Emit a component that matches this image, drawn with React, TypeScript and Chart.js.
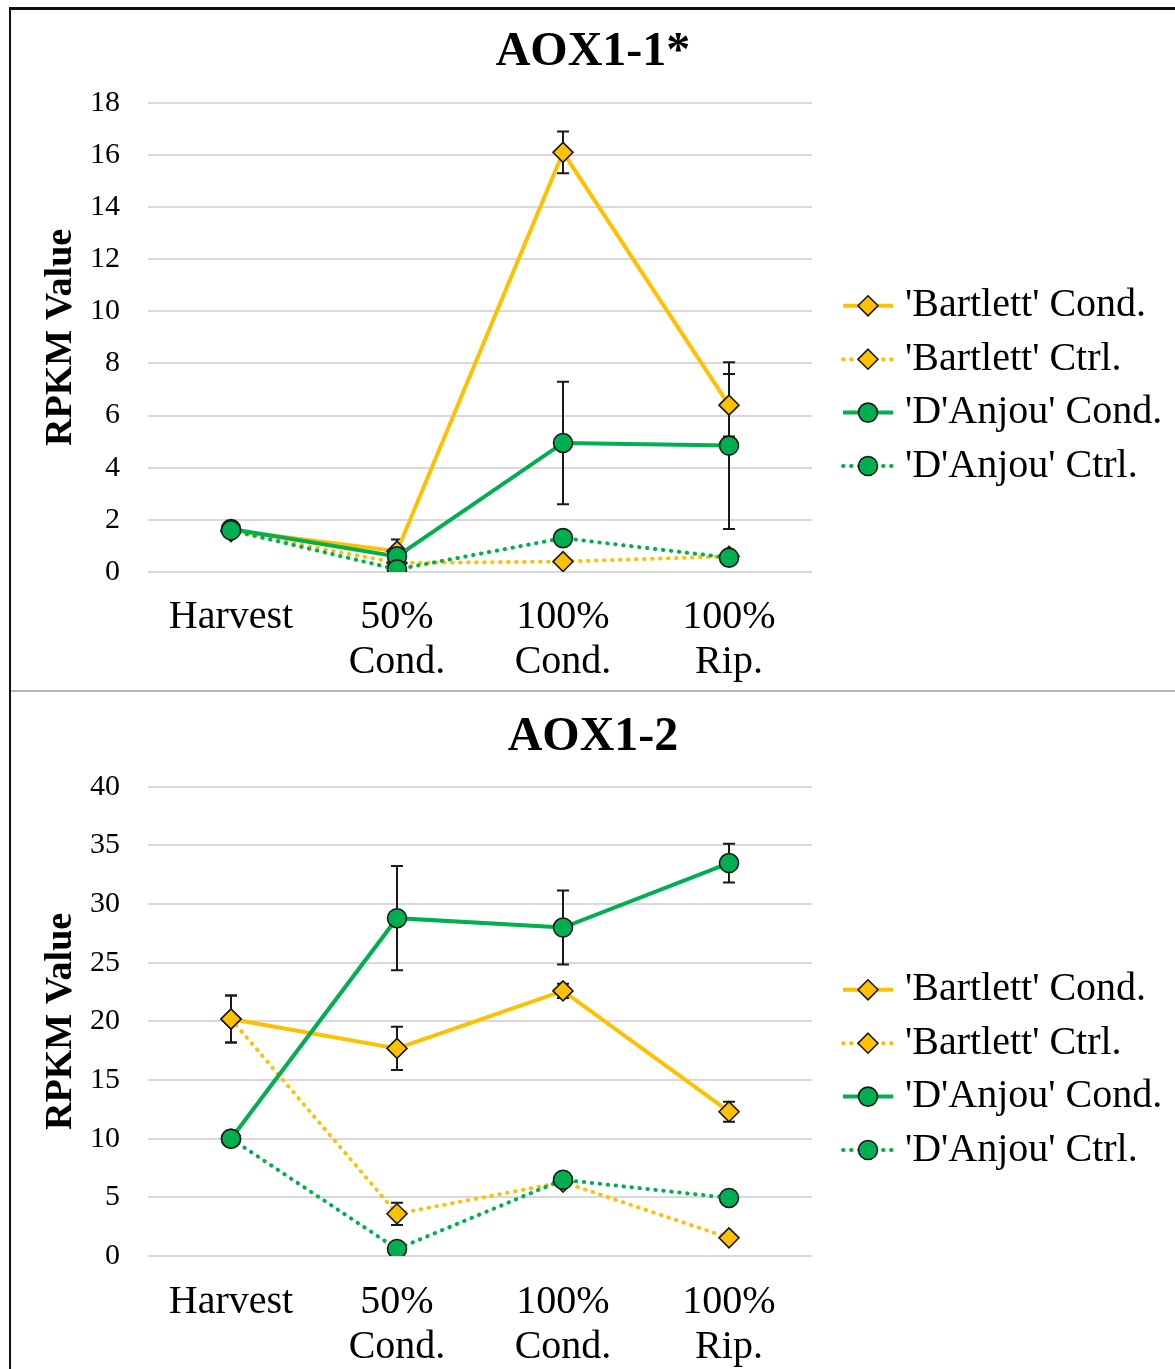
import React, { useEffect, useRef } from 'react';
import { Chart, registerables } from 'chart.js';

Chart.register(...registerables);

// ---------- data ----------
const categories: (string | string[])[] = ['Harvest', ['50%', 'Cond.'], ['100%', 'Cond.'], ['100%', 'Rip.']];
const seriesNames = ["'Bartlett' Cond.", "'Bartlett' Ctrl.", "'D'Anjou' Cond.", "'D'Anjou' Ctrl."];

// AOX1-1*
const aox11BartlettCond = [1.6, 0.8, 16.1, 6.4];
const aox11BartlettCondErr = [0.15, 0.45, 0.8, 1.2];
const aox11BartlettCtrl = [1.55, 0.35, 0.4, 0.6];
const aox11BartlettCtrlErr = [0.1, 0.1, 0.05, 0.1];
const aox11DAnjouCond = [1.65, 0.6, 4.95, 4.85];
const aox11DAnjouCondErr = [0.1, 0.3, 2.35, 3.2];
const aox11DAnjouCtrl = [1.6, 0.1, 1.3, 0.55];
const aox11DAnjouCtrlErr = [0.1, 0.05, 0.15, 0.1];
const aox11YTicks = { min: 0, max: 18, step: 2 };

// AOX1-2
const aox12BartlettCond = [20.2, 17.7, 22.6, 12.3];
const aox12BartlettCondErr = [2.0, 1.85, 0.6, 0.85];
const aox12BartlettCtrl = [20.2, 3.6, 6.3, 1.55];
const aox12BartlettCtrlErr = [2.0, 0.95, 0.3, 0.2];
const aox12DAnjouCond = [10.0, 28.8, 28.0, 33.5];
const aox12DAnjouCondErr = [0.3, 4.45, 3.15, 1.65];
const aox12DAnjouCtrl = [10.0, 0.6, 6.5, 4.95];
const aox12DAnjouCtrlErr = [0.3, 0.2, 0.5, 0.3];
const aox12YTicks = { min: 0, max: 40, step: 5 };

// ---------- styles ----------
const FONT = "'Liberation Serif', 'Times New Roman', serif";
const GOLD = '#FFC000';
const GREEN = '#00B050';
const MARKER_EDGE = '#1a1a1a';

function makeDatasets(vals: number[][], errs: number[][]) {
  const styles = [
    { color: GOLD, dash: [] as number[], point: 'rectRot', r: 10 },
    { color: GOLD, dash: [0.5, 7.5], point: 'rectRot', r: 10 },
    { color: GREEN, dash: [] as number[], point: 'circle', r: 9.5 },
    { color: GREEN, dash: [0.5, 7.5], point: 'circle', r: 9.5 },
  ];
  return vals.map((v, i) => ({
    label: seriesNames[i],
    data: v,
    errors: errs[i],
    borderColor: styles[i].color,
    backgroundColor: styles[i].color,
    borderWidth: 4,
    borderDash: styles[i].dash,
    borderCapStyle: styles[i].dash.length ? 'round' : 'butt',
    pointStyle: styles[i].point,
    pointRadius: styles[i].r,
    pointBackgroundColor: styles[i].color,
    pointBorderColor: MARKER_EDGE,
    pointBorderWidth: 1.6,
    tension: 0,
    order: 3 - i,
  }));
}

const errorBarPlugin = {
  id: 'errorBars',
  beforeDatasetsDraw(chart: any) {
    const ctx = chart.ctx;
    const ys = chart.scales.y;
    ctx.save();
    ctx.strokeStyle = '#1a1a1a';
    ctx.lineWidth = 2;
    chart.data.datasets.forEach((ds: any, i: number) => {
      const meta = chart.getDatasetMeta(i);
      if (!ds.errors || meta.hidden) return;
      meta.data.forEach((pt: any, j: number) => {
        const v = ds.data[j];
        const e = ds.errors[j];
        if (!e) return;
        const x = pt.x;
        const top = ys.getPixelForValue(v + e);
        const bot = ys.getPixelForValue(v - e);
        ctx.beginPath();
        ctx.moveTo(x, top);
        ctx.lineTo(x, bot);
        ctx.moveTo(x - 6, top);
        ctx.lineTo(x + 6, top);
        ctx.moveTo(x - 6, bot);
        ctx.lineTo(x + 6, bot);
        ctx.stroke();
      });
    });
    ctx.restore();
  },
};

const sideLegendPlugin = {
  id: 'sideLegend',
  afterDraw(chart: any, _args: any, opts: any) {
    const { ctx, chartArea } = chart;
    ctx.save();
    chart.data.datasets.forEach((ds: any, i: number) => {
      const y = chartArea.top + opts.firstRow + i * opts.rowGap;
      const x0 = chartArea.right + opts.lineStart;
      const x1 = x0 + opts.lineLength;
      ctx.beginPath();
      ctx.setLineDash(ds.borderDash || []);
      ctx.lineCap = ds.borderCapStyle || 'butt';
      ctx.strokeStyle = ds.borderColor;
      ctx.lineWidth = ds.borderWidth;
      ctx.moveTo(x0, y);
      ctx.lineTo(x1, y);
      ctx.stroke();
      ctx.setLineDash([]);
      const mx = (x0 + x1) / 2;
      const r = ds.pointRadius;
      ctx.beginPath();
      if (ds.pointStyle === 'circle') {
        ctx.arc(mx, y, r, 0, Math.PI * 2);
      } else {
        ctx.moveTo(mx, y - r);
        ctx.lineTo(mx + r, y);
        ctx.lineTo(mx, y + r);
        ctx.lineTo(mx - r, y);
        ctx.closePath();
      }
      ctx.fillStyle = ds.pointBackgroundColor;
      ctx.fill();
      ctx.lineWidth = ds.pointBorderWidth;
      ctx.strokeStyle = ds.pointBorderColor;
      ctx.stroke();
      ctx.fillStyle = '#000';
      ctx.font = `${opts.fontSize}px ${FONT}`;
      ctx.textBaseline = 'middle';
      ctx.textAlign = 'left';
      ctx.fillText(ds.label, x1 + opts.textGap, y);
    });
    ctx.restore();
  },
};

type PanelProps = {
  title: string;
  vals: number[][];
  errs: number[][];
  ticks: { min: number; max: number; step: number };
  top: number;
  height: number;
  titlePadTop: number;
  titlePadBottom: number;
  xAxisHeight: number;
  xPad: number;
};

function Panel(p: PanelProps) {
  const ref = useRef<HTMLCanvasElement>(null);
  useEffect(() => {
    if (!ref.current) return;
    const chart = new Chart(ref.current, {
      type: 'line',
      data: { labels: categories as any, datasets: makeDatasets(p.vals, p.errs) as any },
      options: {
        responsive: false,
        animation: false,
        devicePixelRatio: 1,
        layout: { padding: 0 },
        plugins: {
          legend: { display: false },
          tooltip: { enabled: false },
          title: {
            display: true,
            text: p.title,
            color: '#000',
            font: { family: FONT, size: 48, weight: 'bold', lineHeight: 1.2 },
            padding: { top: p.titlePadTop, bottom: p.titlePadBottom },
          },
          sideLegend: { firstRow: 203, rowGap: 53.4, lineStart: 31, lineLength: 50, textGap: 12, fontSize: 40 },
        } as any,
        scales: {
          x: {
            type: 'category',
            offset: true,
            grid: { display: false, drawTicks: false },
            border: { display: false },
            ticks: {
              color: '#000',
              font: { family: FONT, size: 40, lineHeight: 1.13 },
              padding: p.xPad,
              maxRotation: 0,
              autoSkip: false,
            },
            afterFit: (s: any) => {
              s.height = p.xAxisHeight;
            },
          },
          y: {
            min: p.ticks.min,
            max: p.ticks.max,
            grid: { color: '#d9d9d9', lineWidth: 2, drawTicks: false },
            border: { display: false },
            ticks: {
              stepSize: p.ticks.step,
              color: '#000',
              font: { family: FONT, size: 30 },
              padding: 28,
            },
            title: {
              display: true,
              text: 'RPKM Value',
              color: '#000',
              font: { family: FONT, size: 38, weight: 'bold', lineHeight: 1.2 },
              padding: { top: 27, bottom: 0 },
            },
            afterFit: (s: any) => {
              s.width = 137;
            },
          },
          legendSpace: {
            type: 'linear',
            position: 'right',
            display: true,
            grid: { display: false, drawTicks: false },
            border: { display: false },
            ticks: { display: false },
            afterFit: (s: any) => {
              s.width = 363;
            },
          },
        },
      } as any,
      plugins: [errorBarPlugin, sideLegendPlugin],
    });
    return () => chart.destroy();
  }, []);
  return (
    <canvas
      ref={ref}
      width={1164}
      height={p.height}
      style={{ position: 'absolute', left: 11, top: p.top, width: 1164, height: p.height }}
    />
  );
}

export default function App() {
  return (
    <div
      style={{
        position: 'absolute',
        left: 0,
        top: 0,
        width: 1175,
        height: 1369,
        background: '#fff',
        overflow: 'hidden',
      }}
    >
      <Panel
        title="AOX1-1*"
        vals={[aox11BartlettCond, aox11BartlettCtrl, aox11DAnjouCond, aox11DAnjouCtrl]}
        errs={[aox11BartlettCondErr, aox11BartlettCtrlErr, aox11DAnjouCondErr, aox11DAnjouCtrlErr]}
        ticks={aox11YTicks}
        top={10}
        height={681}
        titlePadTop={14}
        titlePadBottom={21.2}
        xAxisHeight={119}
        xPad={23}
      />
      <Panel
        title="AOX1-2"
        vals={[aox12BartlettCond, aox12BartlettCtrl, aox12DAnjouCond, aox12DAnjouCtrl]}
        errs={[aox12BartlettCondErr, aox12BartlettCtrlErr, aox12DAnjouCondErr, aox12DAnjouCtrlErr]}
        ticks={aox12YTicks}
        top={693}
        height={676}
        titlePadTop={16}
        titlePadBottom={20.2}
        xAxisHeight={113}
        xPad={24}
      />
      <div
        style={{
          position: 'absolute',
          left: 9,
          top: 7,
          width: 1300,
          height: 1500,
          borderLeft: '2px solid #111',
          borderTop: '3px solid #111',
          pointerEvents: 'none',
        }}
      />
      <div
        style={{
          position: 'absolute',
          left: 11,
          top: 690,
          width: 1200,
          height: 0,
          borderTop: '2px solid #b5b5b5',
        }}
      />
    </div>
  );
}
